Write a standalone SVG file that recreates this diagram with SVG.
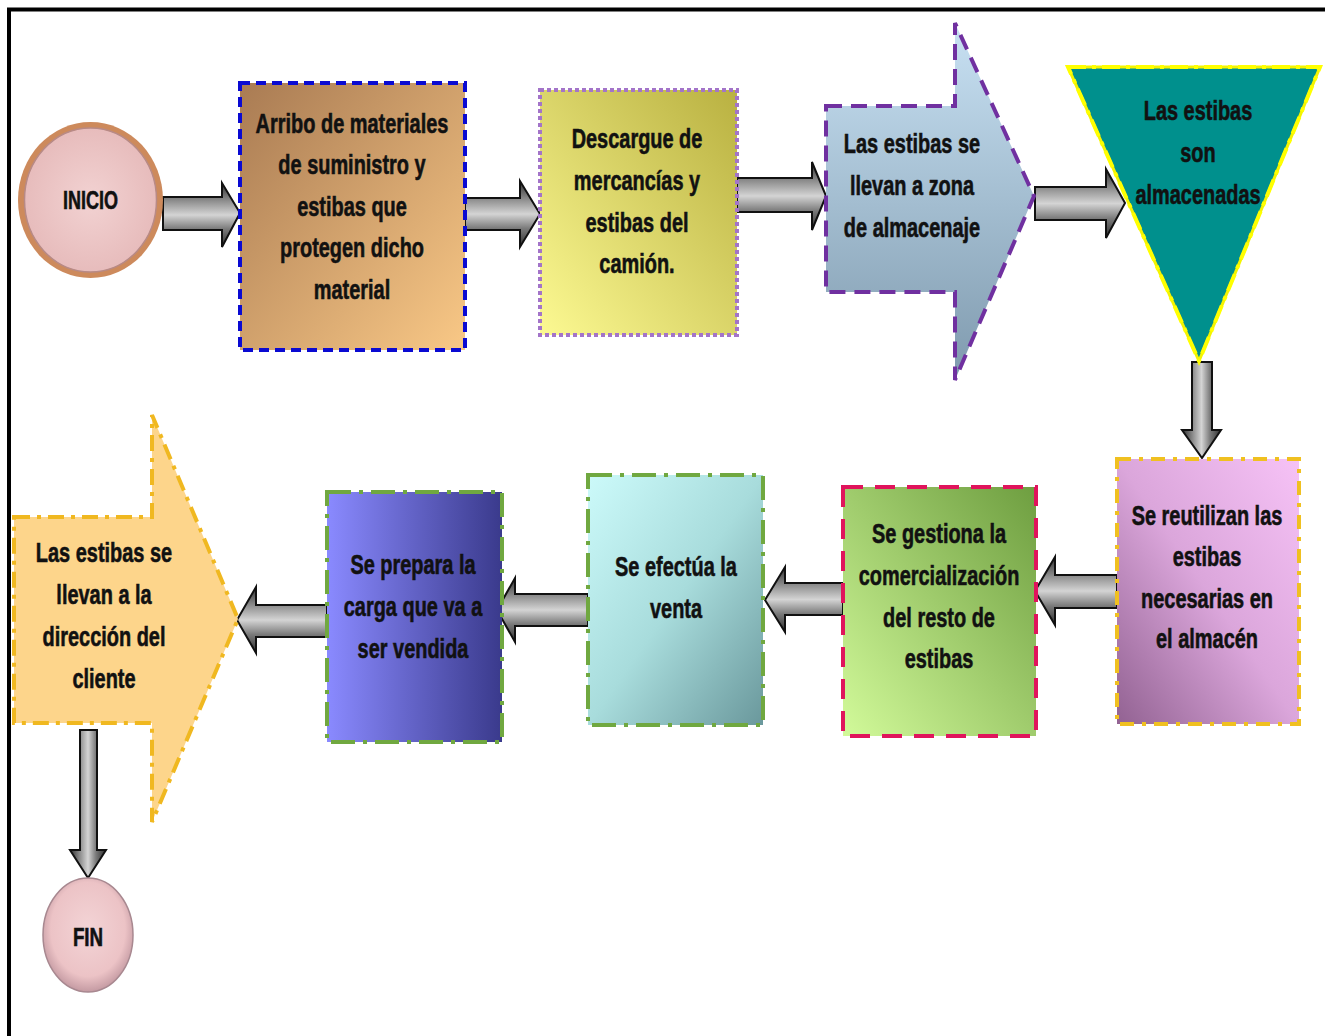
<svg xmlns="http://www.w3.org/2000/svg" width="1325" height="1036" viewBox="0 0 1325 1036">
  <style>
    .lbl text { font-family: "Liberation Sans", Arial, sans-serif; font-weight: bold; font-size: 28.5px; fill: #111; stroke: #111; stroke-width: 0.6px; text-anchor: middle; }
    .term text { font-size: 25px; }
    .arrow { stroke: #111; stroke-width: 2; stroke-linejoin: miter; }
    .h { fill: url(#steelH); }
    .v { fill: url(#steelV); }
    .bd { stroke-width: 4; }
  </style>
  <defs>
    <!-- metallic shading for horizontal and vertical connectors -->
    <linearGradient id="steelH" x1="0" y1="0" x2="0" y2="1">
      <stop offset="0" stop-color="#2e2e2e"/>
      <stop offset="0.28" stop-color="#8e8e8e"/>
      <stop offset="0.5" stop-color="#d4d4d4"/>
      <stop offset="0.72" stop-color="#7a7a7a"/>
      <stop offset="1" stop-color="#2e2e2e"/>
    </linearGradient>
    <linearGradient id="steelV" x1="0" y1="0" x2="1" y2="0">
      <stop offset="0" stop-color="#2e2e2e"/>
      <stop offset="0.28" stop-color="#8e8e8e"/>
      <stop offset="0.5" stop-color="#d4d4d4"/>
      <stop offset="0.72" stop-color="#7a7a7a"/>
      <stop offset="1" stop-color="#2e2e2e"/>
    </linearGradient>
    <radialGradient id="pinkBall" cx="0.5" cy="0.45" r="0.55">
      <stop offset="0" stop-color="#f3d4d6"/>
      <stop offset="0.75" stop-color="#ecc3c6"/>
      <stop offset="1" stop-color="#c49aa2"/>
    </radialGradient>
    <radialGradient id="pinkDisc" cx="0.5" cy="0.5" r="0.5">
      <stop offset="0" stop-color="#f2d2d2"/>
      <stop offset="1" stop-color="#e7bcbc"/>
    </radialGradient>
    <linearGradient id="gBrown" x1="0" y1="0" x2="1" y2="1">
      <stop offset="0" stop-color="#a97b53"/>
      <stop offset="1" stop-color="#f9c886"/>
    </linearGradient>
    <linearGradient id="gYellow" x1="1" y1="0" x2="0" y2="1">
      <stop offset="0" stop-color="#b9b141"/>
      <stop offset="1" stop-color="#fcf992"/>
    </linearGradient>
    <linearGradient id="gBlue" x1="0" y1="0" x2="0" y2="1">
      <stop offset="0" stop-color="#c8e1f3"/>
      <stop offset="1" stop-color="#7f9aae"/>
    </linearGradient>
    <linearGradient id="gViolet" x1="1" y1="0" x2="0" y2="1">
      <stop offset="0" stop-color="#f6c2f6"/>
      <stop offset="0.5" stop-color="#dba6db"/>
      <stop offset="1" stop-color="#926292"/>
    </linearGradient>
    <linearGradient id="gGreen" x1="1" y1="0" x2="0" y2="1">
      <stop offset="0" stop-color="#6e9e40"/>
      <stop offset="1" stop-color="#d2fa9a"/>
    </linearGradient>
    <linearGradient id="gCyan" x1="0" y1="0" x2="1" y2="1">
      <stop offset="0" stop-color="#ccfafa"/>
      <stop offset="0.5" stop-color="#a8dcdc"/>
      <stop offset="1" stop-color="#6a989c"/>
    </linearGradient>
    <linearGradient id="gIndigo" x1="0" y1="0" x2="1" y2="0">
      <stop offset="0" stop-color="#8a8aff"/>
      <stop offset="1" stop-color="#3a3a8c"/>
    </linearGradient>
  </defs>

  <rect width="1325" height="1036" fill="#fff"/>
  <!-- page frame (top and left edges) -->
  <path d="M9 1036 V9.5 H1325" fill="none" stroke="#000" stroke-width="4"/>

  <!-- connectors -->
  <g id="connectors">
    <path class="arrow h" d="M163 197 H222 V183 L240 213 L222 247 V230 H163 Z"/>
    <path class="arrow h" d="M465 198 H520 V181 L540 214 L520 247 V230 H465 Z"/>
    <path class="arrow h" d="M737 178 H812 V162 L826 196 L812 230 V212 H737 Z"/>
    <path class="arrow h" d="M1035 187 H1106 V169 L1125 203 L1106 238 V220 H1035 Z"/>
    <path class="arrow v" d="M1192 362 V430 H1182 L1202 458 L1221 430 H1212 V362 Z"/>
    <path class="arrow h" d="M1117 575 H1055 V557 L1035 591 L1055 625 V608 H1117 Z"/>
    <path class="arrow h" d="M843 583 H785 V567 L765 600 L785 632 V615 H843 Z"/>
    <path class="arrow h" d="M588 594 H515 V578 L497 610 L515 642 V626 H588 Z"/>
    <path class="arrow h" d="M327 605 H256 V587 L237 620 L256 653 V637 H327 Z"/>
    <path class="arrow v" d="M80 730 V850 H70 L88 878 L106 850 H97 V730 Z"/>
  </g>

  <!-- start -->
  <g id="inicio">
    <ellipse cx="90.5" cy="200" rx="72.5" ry="78" fill="#cd8a5c"/>
    <ellipse cx="90.5" cy="200" rx="66" ry="72" fill="url(#pinkDisc)" stroke="#b88a86" stroke-width="1.5"/>
    <g class="lbl term" transform="translate(90.5 0) scale(0.72 1)">
      <text x="0" y="209">INICIO</text>
    </g>
  </g>

  <g id="arribo">
    <rect class="bd" x="240" y="83" width="225" height="267" fill="url(#gBrown)" stroke="#0a0ad2" stroke-dasharray="10 6"/>
    <g class="lbl" transform="translate(352 0) scale(0.7 1)">
      <text x="0" y="133">Arribo de materiales</text>
      <text x="0" y="174">de suministro y</text>
      <text x="0" y="216">estibas que</text>
      <text x="0" y="257">protegen dicho</text>
      <text x="0" y="299">material</text>
    </g>
  </g>

  <g id="descargue">
    <rect class="bd" x="540" y="90" width="197" height="245" fill="url(#gYellow)" stroke="#a374c9" stroke-dasharray="4 3"/>
    <g class="lbl" transform="translate(637 0) scale(0.7 1)">
      <text x="0" y="148">Descargue de</text>
      <text x="0" y="190">mercancías y</text>
      <text x="0" y="232">estibas del</text>
      <text x="0" y="273">camión.</text>
    </g>
  </g>

  <g id="zona">
    <path class="bd" d="M826 106 H955 V23 L1034 196 L955 380 V292 H826 Z" fill="url(#gBlue)" stroke="#7030a0" stroke-dasharray="16 9"/>
    <g class="lbl" transform="translate(912 0) scale(0.7 1)">
      <text x="0" y="153">Las estibas se</text>
      <text x="0" y="195">llevan a zona</text>
      <text x="0" y="237">de almacenaje</text>
    </g>
  </g>

  <g id="almacenadas">
    <path d="M1068 67 H1320 L1199 361 Z" fill="#00908d" stroke="#f4f400" stroke-width="3"/>
    <path d="M1068 67 H1320 L1199 361 Z" fill="none" stroke="#ffff00" stroke-width="4" stroke-dasharray="18 6 4 6"/>
    <g class="lbl" transform="translate(1198 0) scale(0.7 1)">
      <text x="0" y="120">Las estibas</text>
      <text x="0" y="162">son</text>
      <text x="0" y="204">almacenadas</text>
    </g>
  </g>

  <g id="reutilizan">
    <rect class="bd" x="1117" y="459" width="182" height="265" fill="url(#gViolet)" stroke="#f0c020" stroke-dasharray="14 8 4 8"/>
    <g class="lbl" transform="translate(1207 0) scale(0.7 1)">
      <text x="0" y="525">Se reutilizan las</text>
      <text x="0" y="566">estibas</text>
      <text x="0" y="608">necesarias en</text>
      <text x="0" y="648">el almacén</text>
    </g>
  </g>

  <g id="comercializacion">
    <rect class="bd" x="843" y="487" width="193" height="249" fill="url(#gGreen)" stroke="#e0145c" stroke-dasharray="20 12"/>
    <g class="lbl" transform="translate(939 0) scale(0.7 1)">
      <text x="0" y="543">Se gestiona la</text>
      <text x="0" y="585">comercialización</text>
      <text x="0" y="627">del resto de</text>
      <text x="0" y="668">estibas</text>
    </g>
  </g>

  <g id="venta">
    <rect class="bd" x="588" y="475" width="175" height="250" fill="url(#gCyan)" stroke="#70a840" stroke-dasharray="24 8 4 8"/>
    <g class="lbl" transform="translate(676 0) scale(0.7 1)">
      <text x="0" y="576">Se efectúa la</text>
      <text x="0" y="618">venta</text>
    </g>
  </g>

  <g id="carga">
    <rect class="bd" x="327" y="492" width="175" height="250" fill="url(#gIndigo)" stroke="#70a840" stroke-dasharray="24 8 4 8"/>
    <g class="lbl" transform="translate(413 0) scale(0.7 1)">
      <text x="0" y="574">Se prepara la</text>
      <text x="0" y="616">carga que va a</text>
      <text x="0" y="658">ser vendida</text>
    </g>
  </g>

  <g id="cliente">
    <path class="bd" d="M14 517 H152 V415 L238 619 L152 822 V723 H14 Z" fill="#fdd58b" stroke="#f0b820" stroke-dasharray="16 7 4 7"/>
    <g class="lbl" transform="translate(104 0) scale(0.7 1)">
      <text x="0" y="562">Las estibas se</text>
      <text x="0" y="604">llevan a la</text>
      <text x="0" y="646">dirección del</text>
      <text x="0" y="688">cliente</text>
    </g>
  </g>

  <!-- end -->
  <g id="fin">
    <ellipse cx="88" cy="935" rx="45" ry="57" fill="url(#pinkBall)" stroke="#a88890" stroke-width="1.5"/>
    <g class="lbl term" transform="translate(88 0) scale(0.75 1)">
      <text x="0" y="946">FIN</text>
    </g>
  </g>
</svg>
